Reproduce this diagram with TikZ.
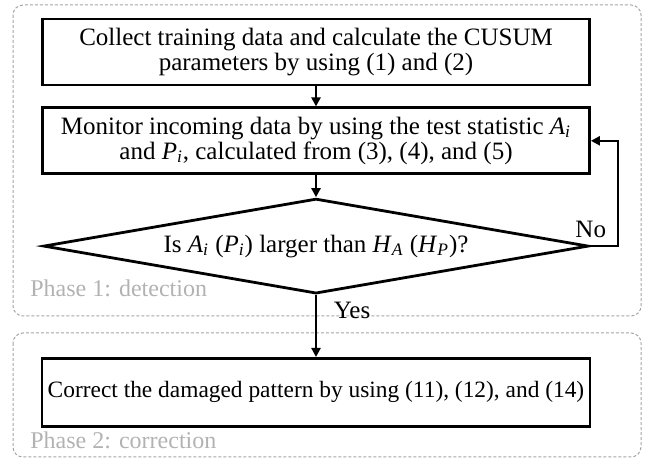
\documentclass[tikz,border=0pt]{standalone}
\usepackage{fontspec}
\setmainfont{Liberation Serif}
\usepackage{tikz}
\usetikzlibrary{shapes.geometric, arrows.meta, positioning}
\definecolor{phaseline}{RGB}{165,165,165}
\definecolor{phasetext}{RGB}{178,178,178}
\newcommand{\symsub}[2]{\textit{#1}\textsubscript{\textit{#2}}}

\begin{document}
\begin{tikzpicture}[
    node distance=10pt,
    box/.style={draw, line width=1.4pt, minimum width=273.5pt, minimum height=33pt, align=center, inner sep=2pt, font=\fontsize{12.5}{12.5}\selectfont},
    decision/.style={draw, diamond, line width=1.4pt, aspect=5.7, minimum width=272.5pt, minimum height=47.5pt, inner sep=0pt, font=\fontsize{12.5}{12.5}\selectfont},
    arrow/.style={-{Triangle[length=4.5pt,width=4.5pt]}, line width=1.2pt},
    phase/.style={draw=phaseline, dash pattern=on 1.5pt off 1pt, line width=0.5pt, rounded corners=5pt},
    phaselabel/.style={text=phasetext, anchor=west, inner sep=0pt, font=\fontsize{12}{14}\selectfont},
    lbl/.style={font=\fontsize{12.5}{12.5}\selectfont}
]
    \useasboundingbox (0,0) rectangle (323.5pt,-229pt);
    \draw[phase] (6.5pt,-2.5pt) rectangle (320.5pt,-158pt);
    \draw[phase] (6.5pt,-166.5pt) rectangle (320.5pt,-228.5pt);
    \node[phaselabel] (phaseone) at (15pt,-144pt) {Phase 1: detection};
    \node[phaselabel] (phasetwo) at (15pt,-220pt) {Phase 2: correction};

    \node[box] (collect) at (158pt,-26pt) {Collect training data and calculate the CUSUM\\parameters by using (1) and (2)};
    \node[box, below=of collect] (monitor) {Monitor incoming data by using the test statistic \symsub{A}{i}\\and \symsub{P}{i}, calculated from (3), (4), and (5)};
    \node[decision, below=11pt of monitor] (compare) {Is \symsub{A}{i} (\symsub{P}{i}) larger than \symsub{H}{A} (\symsub{H}{P})?};
    \node[box, minimum width=274pt, minimum height=34pt, below=31pt of compare, font=\fontsize{11.7}{12}\selectfont] (correct) {Correct the damaged pattern by using (11), (12), and (14)};

    \draw[arrow] (collect) -- (monitor);
    \draw[arrow] (monitor) -- (compare);
    \draw[arrow] (compare) -- node[lbl, near start, right, xshift=5pt] {Yes} (correct);
    \draw[arrow] (compare.east) -- ++(14pt,0) node[lbl, above left, xshift=-2pt] {No} |- (monitor.east);
\end{tikzpicture}
\end{document}
